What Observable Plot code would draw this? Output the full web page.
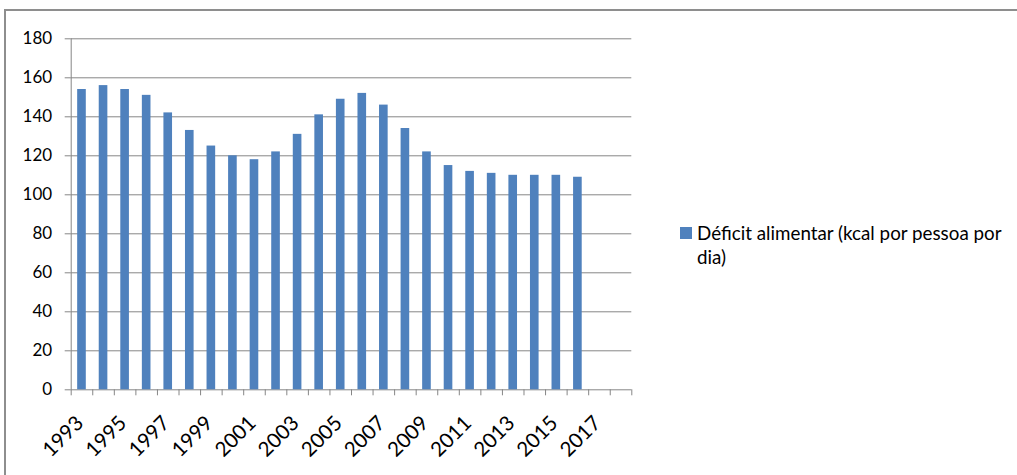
<!DOCTYPE html>
<html><head><meta charset="utf-8">
<script src="https://cdn.jsdelivr.net/npm/d3@7"></script>
<script src="https://cdn.jsdelivr.net/npm/@observablehq/plot@0.6"></script>
<style>
body{margin:0;background:#fff;}
#wrap{position:relative;width:1017px;height:475px;overflow:hidden;font-family:Lato,sans-serif;}
#frame{position:absolute;left:4px;top:9px;right:-10px;bottom:-10px;border-top:2px solid #8e8e8e;border-left:2px solid #8e8e8e;pointer-events:none;}
#legend{position:absolute;left:697px;top:221px;font-size:18.8px;line-height:24px;color:#000;white-space:nowrap;}
#legend .sw{position:absolute;left:-17px;top:6px;width:12px;height:12px;background:#4F81BD;}
</style></head><body>
<div id="wrap"><div id="chart"></div><div id="legend"></div><div id="frame"></div></div>
<script>
const years = [1993,1994,1995,1996,1997,1998,1999,2000,2001,2002,2003,2004,2005,2006,2007,2008,2009,2010,2011,2012,2013,2014,2015,2016,2017,2018];
const dataYears = [1993,1994,1995,1996,1997,1998,1999,2000,2001,2002,2003,2004,2005,2006,2007,2008,2009,2010,2011,2012,2013,2014,2015,2016];
const values = [154,156,154,151,142,133,125,120,118,122,131,141,149,152,146,134,122,115,112,111,110,110,110,109];
const labelYears = [1993,1995,1997,1999,2001,2003,2005,2007,2009,2011,2013,2015,2017];
const yTicks = [0,20,40,60,80,100,120,140,160,180];
const seriesName = "Déficit alimentar (kcal por pessoa por";
const seriesName2 = "dia)";

const data = dataYears.map((y, i) => ({year: y, value: values[i]}));

const W = 1017, H = 475;
const mL = 70.7, mR = 385.7, mT = 38.3, mB = 85.7;
const step = (W - mL - mR) / years.length;
const grey = "#868686";

const chart = Plot.plot({
  width: W, height: H,
  marginLeft: mL, marginRight: mR, marginTop: mT, marginBottom: mB,
  style: {fontFamily: "Lato, sans-serif", fontSize: "17px", color: "#000", background: "transparent"},
  x: {type: "band", domain: years, paddingInner: 0.6, paddingOuter: 0.3, round: false, axis: null, label: null},
  y: {domain: [0, 180], axis: null, label: null},
  marks: [
    Plot.gridY(yTicks, {stroke: grey, strokeOpacity: 1, strokeWidth: 1}),
    Plot.barY(data, {x: "year", y: "value", fill: "#4F81BD"}),
    Plot.ruleX([years[0]], {dx: -step / 2, stroke: grey, strokeWidth: 1}),
    Plot.axisY({ticks: yTicks, tickSize: 6, tickPadding: 13, stroke: grey, fill: "#000", fontSize: 17, label: null}),
    Plot.axisX({ticks: years, tickSize: 6, tickFormat: () => "", dx: -step / 2, stroke: grey, label: null}),
    Plot.axisX({ticks: [years[years.length - 1]], tickSize: 6, tickFormat: () => "", dx: step / 2, stroke: grey, label: null}),
    Plot.axisX({ticks: labelYears, tickSize: 0, tickPadding: 30, tickRotate: -45, fontSize: 20.5, dx: -2, fill: "#000", tickFormat: d => String(d), label: null})
  ]
});
document.getElementById("chart").appendChild(chart);

const lg = document.getElementById("legend");
const sw = document.createElement("span"); sw.className = "sw"; lg.appendChild(sw);
lg.appendChild(document.createTextNode(seriesName));
lg.appendChild(document.createElement("br"));
lg.appendChild(document.createTextNode(seriesName2));
</script>
</body></html>
